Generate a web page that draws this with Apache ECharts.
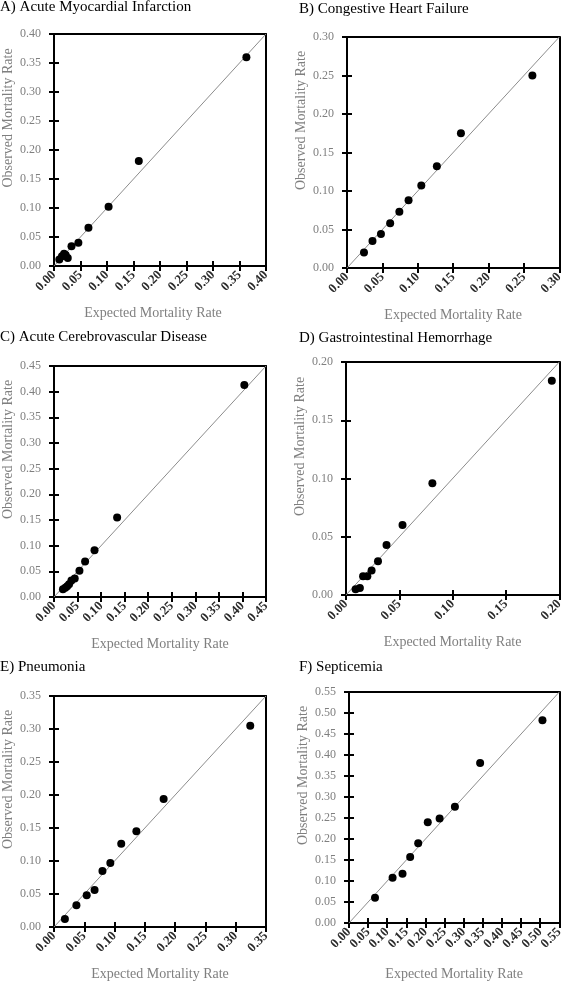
<!DOCTYPE html>
<html><head><meta charset="utf-8">
<script src="https://cdn.jsdelivr.net/npm/echarts@6/dist/echarts.min.js"></script>
<style>html,body{margin:0;padding:0;background:#fff}#c{width:566px;height:982px}</style>
</head><body><div id="c"></div>
<script>
// Panel titles
const titles = ["A) Acute Myocardial Infarction","B) Congestive Heart Failure","C) Acute Cerebrovascular Disease","D) Gastrointestinal Hemorrhage","E) Pneumonia","F) Septicemia"];
// Axis maxima (both axes, ticks every 0.05)
const axisMax = [0.40, 0.30, 0.45, 0.20, 0.35, 0.55];
const tickStep = 0.05;
// A) Acute Myocardial Infarction
const aExpected = [0.010,0.015,0.019,0.022,0.026,0.033,0.046,0.065,0.103,0.160,0.363];
const aObserved = [0.011,0.017,0.021,0.019,0.014,0.034,0.040,0.066,0.102,0.181,0.360];
// B) Congestive Heart Failure
const bExpected = [0.024,0.036,0.048,0.061,0.074,0.087,0.105,0.127,0.161,0.262];
const bObserved = [0.020,0.035,0.044,0.058,0.073,0.088,0.107,0.132,0.175,0.250];
// C) Acute Cerebrovascular Disease
const cExpected = [0.019,0.024,0.028,0.032,0.037,0.044,0.054,0.066,0.086,0.134,0.404];
const cObserved = [0.015,0.018,0.021,0.025,0.032,0.036,0.051,0.069,0.091,0.155,0.413];
// D) Gastrointestinal Hemorrhage
const dExpected = [0.009,0.013,0.016,0.020,0.024,0.030,0.038,0.053,0.081,0.193];
const dObserved = [0.005,0.006,0.016,0.016,0.021,0.029,0.043,0.060,0.096,0.184];
// E) Pneumonia
const eExpected = [0.018,0.037,0.054,0.067,0.080,0.093,0.111,0.136,0.181,0.324];
const eObserved = [0.012,0.033,0.048,0.056,0.085,0.097,0.126,0.145,0.194,0.305];
// F) Septicemia
const fExpected = [0.068,0.114,0.140,0.160,0.181,0.206,0.237,0.277,0.343,0.506];
const fObserved = [0.060,0.108,0.117,0.157,0.190,0.240,0.249,0.277,0.381,0.483];

const expectedAll = [aExpected,bExpected,cExpected,dExpected,eExpected,fExpected];
const observedAll = [aObserved,bObserved,cObserved,dObserved,eObserved,fObserved];

const grids = [
  {left:49, top:34, width:217, height:232},
  {left:347, top:37, width:215, height:231},
  {left:49, top:366, width:217, height:231},
  {left:346, top:362, width:216, height:233},
  {left:49, top:696, width:217, height:231},
  {left:349, top:692, width:216, height:231}
];
const titlePos = [{left:0,top:0},{left:299,top:2},{left:0,top:330},{left:299,top:331},{left:0,top:660},{left:299,top:660}];
const FONT = "Liberation Serif";
const BLACK_LINE = {show:true, onZero:false, lineStyle:{color:'#000', width:2}};
const CLEAR_LINE = {show:true, onZero:false, lineStyle:{color:'rgba(0,0,0,0)', width:1}};
const CROSS_TICK = {show:true, inside:false, length:10, lineStyle:{color:'#000', width:2}};

const option = {animation:false, backgroundColor:'#fff', title:[], grid:[], xAxis:[], yAxis:[], series:[]};
for (let i=0;i<6;i++){
  option.title.push({text:titles[i], left:titlePos[i].left, top:titlePos[i].top, padding:0,
    textStyle:{fontFamily:FONT, fontSize:15, fontWeight:'normal', color:'#000'}});
  option.grid.push(Object.assign({show:false}, grids[i]));
  const mx = axisMax[i];
  const common = {type:'value', min:0, max:mx, interval:tickStep, gridIndex:i, splitLine:{show:false}};
  // bottom axis: line, labels, name
  option.xAxis.push(Object.assign({}, common, {
    position:'bottom',
    name:'Expected Mortality Rate', nameLocation:'middle', nameGap: (i===5?44:40),
    nameTextStyle:{fontFamily:FONT, fontSize:14, color:'#7f7f7f', padding: i===0?[0,14,0,0]:0},
    axisLine:BLACK_LINE, axisTick:{show:false},
    axisLabel:{show:true, rotate:45, margin:7, fontFamily:FONT, fontSize:13, fontWeight:'bold', color:'#2a2a2a',
      formatter:v=>v.toFixed(2)}
  }));
  // bottom crossing ticks
  option.xAxis.push(Object.assign({}, common, {
    position:'bottom', offset:-5, axisLine:CLEAR_LINE, axisLabel:{show:false}, axisTick:CROSS_TICK
  }));
  // top border
  option.xAxis.push(Object.assign({}, common, {
    position:'top', axisLine:BLACK_LINE, axisLabel:{show:false}, axisTick:{show:false}
  }));
  // left axis: line, labels, name
  option.yAxis.push(Object.assign({}, common, {
    position:'left',
    name:'Observed Mortality Rate', nameLocation:'middle', nameGap:39,
    nameTextStyle:{fontFamily:FONT, fontSize:14, color:'#7f7f7f', padding:[0,0,0,64]},
    axisLine:BLACK_LINE, axisTick:{show:false},
    axisLabel:{show:true, margin:13, fontFamily:FONT, fontSize:12, color:'#7f7f7f', formatter:v=>v.toFixed(2)}
  }));
  // left crossing ticks
  option.yAxis.push(Object.assign({}, common, {
    position:'left', offset:-5, axisLine:CLEAR_LINE, axisLabel:{show:false}, axisTick:CROSS_TICK
  }));
  // right border
  option.yAxis.push(Object.assign({}, common, {
    position:'right', axisLine:BLACK_LINE, axisLabel:{show:false}, axisTick:{show:false}
  }));
  option.series.push({type:'line', xAxisIndex:3*i, yAxisIndex:3*i, data:[[0,0],[mx,mx]],
    symbol:'none', lineStyle:{color:'#8c8c8c', width:1}, silent:true, z:1});
  option.series.push({type:'scatter', xAxisIndex:3*i, yAxisIndex:3*i,
    data: expectedAll[i].map((x,k)=>[x, observedAll[i][k]]),
    symbol:'circle', symbolSize:8, itemStyle:{color:'#000', opacity:1}, z:3});
}
const chart = echarts.init(document.getElementById('c'), null, {renderer:'canvas'});
chart.setOption(option);
</script>
</body></html>
